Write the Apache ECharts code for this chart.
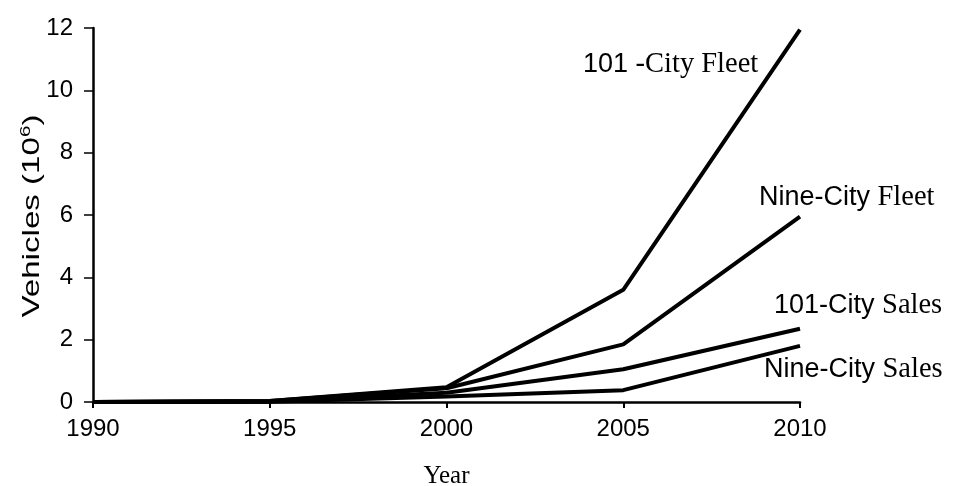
<!DOCTYPE html>
<html><head><meta charset="utf-8">
<script src="https://cdn.jsdelivr.net/npm/echarts@6/dist/echarts.min.js"></script>
<style>html,body{margin:0;padding:0;background:#fff}#c{width:954px;height:486px}</style>
</head><body><div id="c"></div>
<script>
const years = [1990, 1995, 2000, 2005, 2010];
const fleet101 = [0, 0.03, 0.47, 3.6, 11.95];
const fleet9 = [0, 0.03, 0.44, 1.85, 5.95];
const sales101 = [0, 0.02, 0.3, 1.05, 2.35];
const sales9 = [0, 0.01, 0.18, 0.38, 1.8];
const seriesNames = ['101 -City Fleet', 'Nine-City Fleet', '101-City Sales', 'Nine-City Sales'];
const yTicks = [0, 2, 4, 6, 8, 10, 12];
const xTicks = [1990, 1995, 2000, 2005, 2010];

const chart = echarts.init(document.getElementById('c'));
const pair = arr => years.map((y, i) => [y, arr[i]]);
const lineStyle = { color: '#000', width: 4 };
const mk = (name, arr) => ({ name, type: 'line', data: pair(arr), symbol: 'none', lineStyle, color: '#000', silent: true });
const sans = 'Liberation Sans, Arial, sans-serif';
const serif = 'Liberation Serif, Times New Roman, serif';
const lab = (a, b) => ({ text: '{a|' + a + '}{b|' + b + '}', rich: {
  a: { fontFamily: sans, fontSize: 27, fill: '#000' },
  b: { fontFamily: serif, fontSize: 28.5, fill: '#000' } } });
chart.setOption({
  animation: false,
  grid: { left: 93, right: 154, top: 28, bottom: 84, containLabel: false, outerBoundsMode: 'none' },
  xAxis: {
    type: 'value', min: 1990, max: 2010, interval: 5,
    name: 'Year', nameLocation: 'middle', nameGap: 62,
    nameTextStyle: { fontFamily: serif, fontSize: 25, color: '#000' },
    axisLine: { lineStyle: { color: '#000', width: 2.5 } },
    axisTick: { length: 6, lineStyle: { color: '#000', width: 2 } },
    axisLabel: { fontFamily: sans, fontSize: 24, color: '#000', margin: 15,
      formatter: v => xTicks.includes(v) ? String(v) : '' },
    splitLine: { show: false }
  },
  yAxis: {
    type: 'value', min: 0, max: 12, interval: 2,
    axisLine: { show: true, lineStyle: { color: '#000', width: 2.5 } },
    axisTick: { show: true, length: 9, lineStyle: { color: '#000', width: 1.5 } },
    axisLabel: { fontFamily: sans, fontSize: 24, color: '#000', margin: 20,
      formatter: v => yTicks.includes(v) ? String(v) : '' },
    splitLine: { show: false }
  },
  series: [mk(seriesNames[0], fleet101), mk(seriesNames[1], fleet9), mk(seriesNames[2], sales101), mk(seriesNames[3], sales9)],
  graphic: [
    { type: 'text', x: 32, y: 216, rotation: Math.PI / 2, scaleX: 1.38, silent: true,
      style: { text: '{a|Vehicles (10}{s|6}{a|)}', align: 'center', verticalAlign: 'middle', rich: {
        a: { fontFamily: sans, fontSize: 24, fill: '#000' },
        s: { fontFamily: sans, fontSize: 15, fill: '#000', verticalAlign: 'top', padding: [0, 0, 12, 0] } } } },
    { type: 'text', left: 583, top: 50, style: lab('101 ', '-City Fleet') },
    { type: 'text', left: 759, top: 183, style: lab('Nine-City ', 'Fleet') },
    { type: 'text', left: 774, top: 291, style: lab('101-City ', 'Sales') },
    { type: 'text', left: 764, top: 355, style: lab('Nine-City ', 'Sales') }
  ]
});
</script></body></html>
